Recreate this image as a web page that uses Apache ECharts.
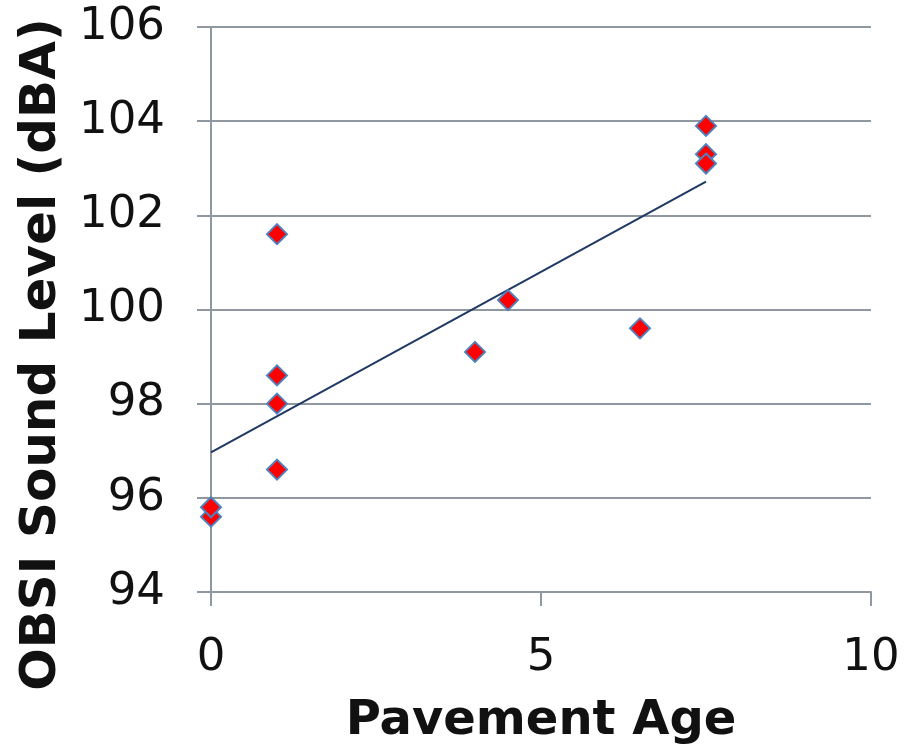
<!DOCTYPE html>
<html><head><meta charset="utf-8">
<script src="https://cdn.jsdelivr.net/npm/echarts@6/dist/echarts.min.js"></script>
<style>html,body{margin:0;padding:0;background:#fff}#c{width:908px;height:749px}</style>
</head><body><div id="c"></div>
<script>
const pavementAge = [0, 0, 1, 1, 1, 1, 4, 4.5, 6.5, 7.5, 7.5, 7.5];
const soundLevel = [95.6, 95.8, 101.6, 98.6, 98.0, 96.6, 99.1, 100.2, 99.6, 103.9, 103.3, 103.1];
const xTicks = [0, 5, 10];
const yTicks = [94, 96, 98, 100, 102, 104, 106];

const n = pavementAge.length;
const mx = pavementAge.reduce((a, b) => a + b, 0) / n;
const my = soundLevel.reduce((a, b) => a + b, 0) / n;
let sxy = 0, sxx = 0;
for (let i = 0; i < n; i++) { sxy += (pavementAge[i] - mx) * (soundLevel[i] - my); sxx += (pavementAge[i] - mx) ** 2; }
const slope = sxy / sxx, intercept = my - slope * mx;
const xMin = Math.min(...pavementAge), xMax = Math.max(...pavementAge);
const trend = [[xMin, intercept + slope * xMin], [xMax, intercept + slope * xMax]];

const gridColor = '#8f97a1';
const chart = echarts.init(document.getElementById('c'));
chart.setOption({
  animation: false,
  grid: { left: 211, right: 37, top: 27, bottom: 157, containLabel: false, outerBoundsMode: 'none' },
  xAxis: {
    type: 'value', min: xTicks[0], max: xTicks[xTicks.length - 1], interval: 5,
    name: 'Pavement Age', nameLocation: 'middle', nameGap: 106,
    nameTextStyle: { fontFamily: 'DejaVu Sans', fontWeight: 'bold', fontSize: 48, color: '#111' },
    axisLine: { show: true, lineStyle: { color: gridColor, width: 2 } },
    axisTick: { show: true, length: 14, lineStyle: { color: gridColor, width: 2 } },
    axisLabel: { margin: 44, fontFamily: 'DejaVu Sans', fontSize: 45, color: '#111' },
    splitLine: { show: false }
  },
  yAxis: {
    type: 'value', min: yTicks[0], max: yTicks[yTicks.length - 1], interval: 2,
    name: 'OBSI Sound Level (dBA)', nameLocation: 'middle', nameGap: 144,
    nameTextStyle: { fontFamily: 'DejaVu Sans', fontWeight: 'bold', fontSize: 50, color: '#111', padding: [0, 90, 0, 0] },
    axisLine: { show: true, lineStyle: { color: gridColor, width: 2 } },
    axisTick: { show: true, length: 14, lineStyle: { color: gridColor, width: 2 } },
    axisLabel: { margin: 46, fontFamily: 'DejaVu Sans', fontSize: 45, color: '#111' },
    splitLine: { show: true, lineStyle: { color: gridColor, width: 2 } }
  },
  series: [
    {
      type: 'line', data: trend, symbol: 'none', z: 2,
      lineStyle: { color: '#1f3864', width: 2 }
    },
    {
      type: 'scatter', z: 3,
      data: pavementAge.map((x, i) => [x, soundLevel[i]]),
      symbol: 'diamond', symbolSize: [20, 20],
      itemStyle: { color: '#ff0000', borderColor: '#4f81bd', borderWidth: 2, opacity: 1 }
    }
  ]
});
</script></body></html>
